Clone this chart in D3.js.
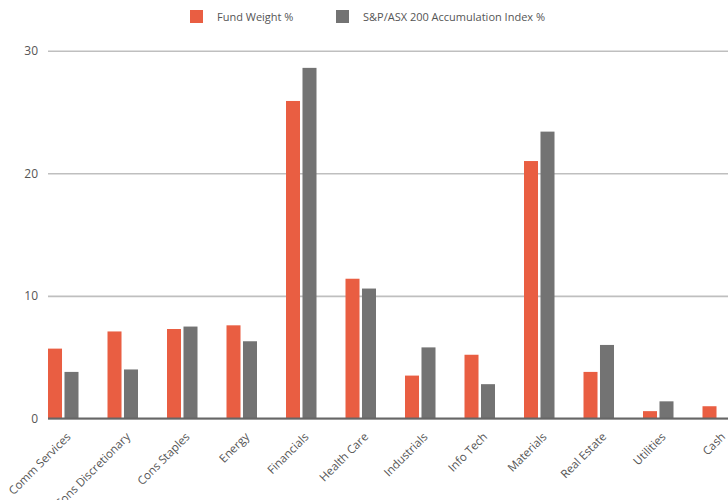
<!DOCTYPE html>
<html>
<head>
<meta charset="utf-8">
<script src="https://cdn.jsdelivr.net/npm/d3@7"></script>
<style>
  html, body { margin: 0; padding: 0; background: #fff; }
  svg { display: block; font-family: "Open Sans", sans-serif; }
</style>
</head>
<body>
<svg id="chart" width="728" height="500"></svg>
<script>
const categories = ["Comm Services", "Cons Discretionary", "Cons Staples", "Energy", "Financials", "Health Care", "Industrials", "Info Tech", "Materials", "Real Estate", "Utilities", "Cash"];
const seriesNames = ["Fund Weight %", "S&P/ASX 200 Accumulation Index %"];
const fundWeight = [5.7, 7.1, 7.3, 7.6, 25.9, 11.4, 3.5, 5.2, 21.0, 3.8, 0.6, 1.0];
const indexWeight = [3.8, 4.0, 7.5, 6.3, 28.6, 10.6, 5.8, 2.8, 23.4, 6.0, 1.4, 0];
const yTicks = [0, 10, 20, 30];
const colors = ["#E95E42", "#737373"];

(function () {
const svg = d3.select("#chart");
const left = 48, step = 59.5, plotTop = 50.7, plotBottom = 418.5;

const x0 = d3.scaleBand().domain(categories).range([left, left + step * categories.length]).padding(0);
const x1 = d3.scaleBand().domain(seriesNames).range([0, 30.5]).paddingInner(0.15).paddingOuter(0);
const y = d3.scaleLinear().domain([0, 30]).range([plotBottom, plotTop]);

// gridlines
const yAxis = d3.axisLeft(y).tickValues(yTicks).tickSize(-(728 - left)).tickPadding(10).tickFormat(d3.format("d"));
const gy = svg.append("g").attr("transform", `translate(${left},0)`).call(yAxis);
gy.select(".domain").remove();
gy.selectAll(".tick line").attr("stroke", "#bfbfbf").attr("stroke-width", 1.6);
gy.selectAll(".tick text").attr("fill", "#555").style("font-size", "12px").style("font-family", "Open Sans");

const data = categories.map((c, i) => ({ cat: c, vals: [fundWeight[i], indexWeight[i]] }));

const groups = svg.append("g").selectAll("g").data(data).join("g")
  .attr("transform", d => `translate(${x0(d.cat)},0)`);
groups.selectAll("rect").data(d => d.vals.map((v, j) => ({ name: seriesNames[j], v, j })).filter(e => e.v > 0))
  .join("rect")
  .attr("x", e => x1(e.name))
  .attr("width", x1.bandwidth())
  .attr("y", e => y(e.v))
  .attr("height", e => y(0) - y(e.v))
  .attr("fill", e => colors[e.j]);

// baseline
svg.append("line").attr("x1", left).attr("x2", 728).attr("y1", y(0)).attr("y2", y(0))
  .attr("stroke", "#666").attr("stroke-width", 2);

// x labels
const xAxis = d3.axisBottom(x0).tickSize(0).tickPadding(0);
const gx = svg.append("g").attr("transform", `translate(0,${y(0)})`).call(xAxis);
gx.select(".domain").remove();
gx.selectAll(".tick").attr("transform", d => `translate(${x0(d) + 23.5},0)`);
gx.selectAll(".tick text")
  .attr("text-anchor", "end")
  .attr("dy", null)
  .attr("y", 0)
  .attr("transform", "translate(0,19) rotate(-45)")
  .attr("fill", "#555")
  .style("font-size", "11.5px")
  .style("font-family", "Open Sans");

// legend
const legendX = [190, 336];
const lg = svg.append("g").selectAll("g").data(seriesNames).join("g")
  .attr("transform", (d, i) => `translate(${legendX[i]},10)`);
lg.append("rect").attr("width", 13).attr("height", 13).attr("fill", (d, i) => colors[i]);
lg.append("text").attr("x", 27).attr("y", 10.5).text(d => d)
  .attr("fill", "#555").style("font-size", "11px").style("font-family", "Open Sans");
})();
</script>
</body>
</html>
